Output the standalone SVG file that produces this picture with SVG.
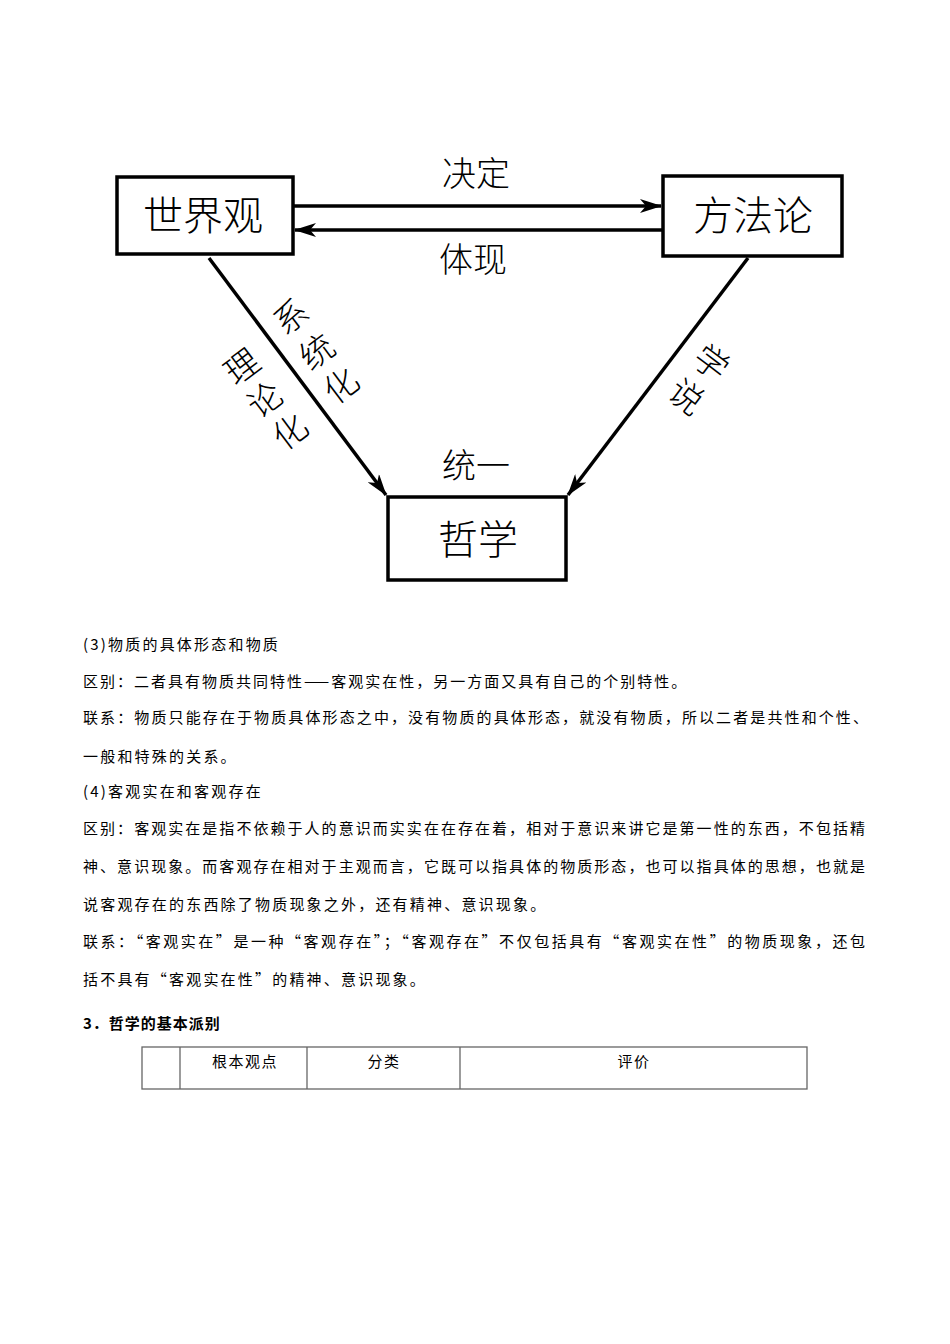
<svg xmlns="http://www.w3.org/2000/svg" width="950" height="1344" viewBox="0 0 950 1344">
<style>
.box{fill:#fff;stroke:#000;stroke-width:3.5}
.big{font-family:"Noto Sans CJK SC","Noto Sans CJK JP",sans-serif;font-size:40px;font-weight:300;fill:#000;text-anchor:middle}
.lbl{font-family:"Noto Sans CJK SC","Noto Sans CJK JP",sans-serif;font-size:34px;font-weight:300;fill:#000;text-anchor:middle}
.conn{stroke:#000;stroke-width:3.5;fill:none}
.cjk{font-family:"Noto Sans CJK SC","Noto Sans CJK JP",sans-serif;font-size:15px;fill:#000}
.tbl{stroke:#666;stroke-width:1.3;fill:none}
</style>
<defs>
<marker id="ah" viewBox="0 0 22 14" refX="21" refY="7" markerWidth="22" markerHeight="14" markerUnits="userSpaceOnUse" orient="auto">
<path d="M0,0 L22,7 L0,14 L6,7 Z" fill="#000"/>
</marker>
</defs>
<rect width="950" height="1344" fill="#fff"/>

<g id="connectors">
<line class="conn" x1="293" y1="206" x2="661" y2="206" marker-end="url(#ah)"/>
<line class="conn" x1="663" y1="230" x2="295" y2="230" marker-end="url(#ah)"/>
<line class="conn" x1="209" y1="258" x2="386" y2="495" marker-end="url(#ah)"/>
<line class="conn" x1="748" y1="258" x2="568" y2="495" marker-end="url(#ah)"/>
<text class="lbl" x="476" y="186">决定</text>
<text class="lbl" x="473" y="272">体现</text>
<g class="lbl">
<text transform="translate(291,317) rotate(-37)" y="12">系</text>
<text transform="translate(317,352) rotate(-37)" y="12">统</text>
<text transform="translate(341,386) rotate(-37)" y="12">化</text>
<text transform="translate(242,367) rotate(-37)" y="12">理</text>
<text transform="translate(265,400) rotate(-37)" y="12">论</text>
<text transform="translate(290,432) rotate(-37)" y="12">化</text>
<text transform="translate(711,363) rotate(37)" y="12">学</text>
<text transform="translate(686,397) rotate(37)" y="12">说</text>
</g>
<text class="lbl" x="476" y="478">统一</text>
</g>

<g id="node-shijieguan">
<rect class="box" x="117" y="177" width="176" height="77"/>
<text class="big" x="203" y="230">世界观</text>
</g>
<g id="node-fangfalun">
<rect class="box" x="663" y="176" width="179" height="80"/>
<text class="big" x="753" y="230">方法论</text>
</g>
<g id="node-zhexue">
<rect class="box" x="388" y="497" width="178" height="83"/>
<text class="big" x="478" y="554">哲学</text>
</g>

<g id="body-text" class="cjk">
<text x="83" y="650" letter-spacing="2.2">(3)物质的具体形态和物质</text>
<text x="83" y="687" letter-spacing="2.0">区别：二者具有物质共同特性——客观实在性，另一方面又具有自己的个别特性。</text>
<text x="83" y="723" textLength="785" lengthAdjust="spacing">联系：物质只能存在于物质具体形态之中，没有物质的具体形态，就没有物质，所以二者是共性和个性、</text>
<text x="83" y="762" letter-spacing="2.2">一般和特殊的关系。</text>
<text x="83" y="797" letter-spacing="2.2">(4)客观实在和客观存在</text>
<text x="83" y="834" textLength="782" lengthAdjust="spacing">区别：客观实在是指不依赖于人的意识而实实在在存在着，相对于意识来讲它是第一性的东西，不包括精</text>
<text x="83" y="872" textLength="782" lengthAdjust="spacing">神、意识现象。而客观存在相对于主观而言，它既可以指具体的物质形态，也可以指具体的思想，也就是</text>
<text x="83" y="910" letter-spacing="2.2">说客观存在的东西除了物质现象之外，还有精神、意识现象。</text>
<text x="83" y="947" textLength="782" lengthAdjust="spacing">联系：“客观实在”是一种“客观存在”；“客观存在”不仅包括具有“客观实在性”的物质现象，还包</text>
<text x="83" y="985" letter-spacing="2.2">括不具有“客观实在性”的精神、意识现象。</text>
<text x="83" y="1029" font-weight="bold" letter-spacing="1">3．哲学的基本派别</text>
</g>

<g id="table">
<rect class="tbl" x="142" y="1047" width="665" height="42"/>
<line class="tbl" x1="180" y1="1047" x2="180" y2="1089"/>
<line class="tbl" x1="307" y1="1047" x2="307" y2="1089"/>
<line class="tbl" x1="460" y1="1047" x2="460" y2="1089"/>
<g class="cjk" text-anchor="middle">
<text x="245" y="1067" letter-spacing="1.5">根本观点</text>
<text x="384" y="1067" letter-spacing="1.5">分类</text>
<text x="634" y="1067" letter-spacing="1.5">评价</text>
</g>
</g>
</svg>
